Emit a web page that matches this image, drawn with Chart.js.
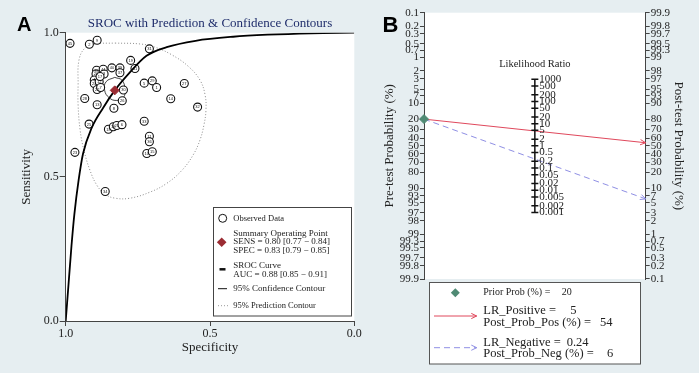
<!DOCTYPE html>
<html>
<head>
<meta charset="utf-8">
<script src="https://cdn.jsdelivr.net/npm/chart.js@4.4.0/dist/chart.umd.min.js"></script>
<style>
  html, body { margin: 0; padding: 0; background: #e6eef1; }
  #wrap { position: relative; width: 699px; height: 373px; overflow: hidden; }
  canvas { position: absolute; top: 0; }
  #sroc { left: 0; }
  #fagan { left: 360px; }
</style>
</head>
<body>
<div id="wrap">
  <canvas id="sroc" width="370" height="373"></canvas>
  <canvas id="fagan" width="339" height="373"></canvas>
</div>
<script>
// ---- Panel A: SROC data ----
const studyIds  = [45, 2, 9, 31, 19, 41, 40, 39, 35, 44, 20, 3, 37, 4, 24, 12, 22, 7, 5, 29, 1, 27, 14, 32, 30, 26, 8, 13, 28, 25, 18, 16, 21, 6, 33, 11, 36, 10, 15, 23, 34, 17];
const studySpec = [0.985, 0.918, 0.891, 0.710, 0.775, 0.760, 0.840, 0.812, 0.893, 0.870, 0.895, 0.867, 0.812, 0.901, 0.901, 0.884, 0.891, 0.879, 0.728, 0.700, 0.685, 0.589, 0.636, 0.543, 0.800, 0.804, 0.833, 0.891, 0.934, 0.919, 0.852, 0.835, 0.823, 0.805, 0.728, 0.710, 0.710, 0.719, 0.700, 0.968, 0.863, 0.881];
const studySens = [0.963, 0.960, 0.974, 0.944, 0.904, 0.876, 0.878, 0.878, 0.870, 0.873, 0.857, 0.857, 0.861, 0.836, 0.824, 0.830, 0.803, 0.810, 0.825, 0.833, 0.810, 0.824, 0.771, 0.742, 0.801, 0.764, 0.738, 0.750, 0.772, 0.683, 0.665, 0.674, 0.678, 0.681, 0.693, 0.641, 0.622, 0.581, 0.587, 0.585, 0.449, 0.848];

const sumSpec = 0.83;
const sumSens = 0.80;

const srocSpec = [1.0, 0.99, 0.98, 0.97, 0.955, 0.94, 0.91, 0.87, 0.83, 0.78, 0.72, 0.65, 0.55, 0.42, 0.30, 0.15, 0.0];
const srocSens = [0.0, 0.13, 0.26, 0.37, 0.49, 0.58, 0.67, 0.74, 0.80, 0.86, 0.92, 0.95, 0.972, 0.986, 0.993, 0.998, 1.0];

const confSpec = [0.830, 0.805, 0.795, 0.800, 0.825, 0.850, 0.865, 0.860, 0.830];
const confSens = [0.845, 0.835, 0.805, 0.775, 0.765, 0.775, 0.800, 0.830, 0.845];

const predSpec = [0.829, 0.743, 0.691, 0.632, 0.576, 0.535, 0.517, 0.514, 0.521, 0.535, 0.559, 0.597, 0.649, 0.708, 0.777, 0.829, 0.864, 0.892, 0.916, 0.937, 0.950, 0.957, 0.957, 0.954, 0.933, 0.898, 0.829];
const predSens = [0.964, 0.961, 0.950, 0.923, 0.884, 0.836, 0.784, 0.732, 0.680, 0.627, 0.575, 0.523, 0.478, 0.447, 0.426, 0.426, 0.440, 0.471, 0.523, 0.593, 0.662, 0.749, 0.818, 0.905, 0.947, 0.961, 0.964];

const axisTicksA = [0, 0.5, 1];

// ---- Panel B: Fagan nomogram data ----
const probTicks = [0.1, 0.2, 0.3, 0.5, 0.7, 1, 2, 3, 5, 7, 10, 20, 30, 40, 50, 60, 70, 80, 90, 93, 95, 97, 98, 99, 99.3, 99.5, 99.7, 99.8, 99.9];
const lrTicks = [1000, 500, 200, 100, 50, 20, 10, 5, 2, 1, 0.5, 0.2, 0.1, 0.05, 0.02, 0.01, 0.005, 0.002, 0.001];
const priorProb = 20;
const lrPositive = 5;
const postProbPos = 54;
const lrNegative = 0.24;
const postProbNeg = 6;

const serif = "'Liberation Serif', 'Times New Roman', serif";
const sans = "'Liberation Sans', Arial, sans-serif";
Chart.defaults.font.family = serif;
Chart.defaults.color = '#222';

const logit = p => Math.log((p / 100) / (1 - p / 100));
const LMAX = logit(99.9);

const pairs = (xs, ys) => xs.map((x, i) => ({ x: x, y: ys[i] }));

// white plotting region
const plotBg = {
  id: 'plotBg',
  beforeDraw(chart) {
    const { ctx, chartArea: a } = chart;
    ctx.save();
    ctx.fillStyle = '#ffffff';
    ctx.fillRect(a.left, a.top, a.right - a.left, a.bottom - a.top);
    ctx.restore();
  }
};

// numbers inside the study circles
const studyLabels = {
  id: 'studyLabels',
  afterDatasetDraw(chart, args) {
    if (args.index !== 2) return;
    const ctx = chart.ctx;
    ctx.save();
    ctx.font = '4px ' + sans;
    ctx.fillStyle = '#111';
    ctx.textAlign = 'center';
    ctx.textBaseline = 'middle';
    args.meta.data.forEach((pt, i) => ctx.fillText(String(studyIds[i]), pt.x, pt.y + 0.3));
    ctx.restore();
  }
};

const decorA = {
  id: 'decorA',
  afterDraw(chart) {
    const { ctx, chartArea: a } = chart;
    ctx.save();
    // panel letter + title
    ctx.fillStyle = '#000';
    ctx.font = 'bold 20px ' + sans;
    ctx.textBaseline = 'alphabetic';
    ctx.fillText('A', 17, 31);
    ctx.fillStyle = '#1f2d6b';
    ctx.font = '13px ' + serif;
    ctx.textAlign = 'center';
    ctx.textBaseline = 'middle';
    ctx.fillText('SROC with Prediction & Confidence Contours', (a.left + a.right) / 2, a.top - 9);

    // legend box
    const bx = 213.5, by = 207.5, bw = 138, bh = 108.5;
    ctx.fillStyle = '#fff';
    ctx.fillRect(bx, by, bw, bh);
    ctx.strokeStyle = '#444';
    ctx.lineWidth = 1;
    ctx.strokeRect(bx, by, bw, bh);

    ctx.textAlign = 'left';
    ctx.fillStyle = '#222';
    const tx = 233.3;
    ctx.beginPath();
    ctx.arc(222.7, 218.3, 4, 0, Math.PI * 2);
    ctx.strokeStyle = '#111';
    ctx.stroke();
    ctx.font = '8.5px ' + serif;
    ctx.fillText('Observed Data', tx, 218.3);

    ctx.font = '9px ' + serif;
    ctx.fillText('Summary Operating Point', tx, 233.3);
    ctx.fillText('SENS = 0.80 [0.77 \u2212 0.84]', tx, 242);
    ctx.fillText('SPEC = 0.83 [0.79 \u2212 0.85]', tx, 250.7);
    ctx.fillStyle = '#9b2c33';
    ctx.beginPath();
    ctx.moveTo(221.7, 237.5); ctx.lineTo(226.5, 242.3); ctx.lineTo(221.7, 247.1); ctx.lineTo(216.9, 242.3);
    ctx.closePath();
    ctx.fill();

    ctx.fillStyle = '#222';
    ctx.fillText('SROC Curve', tx, 265.3);
    ctx.fillText('AUC = 0.88 [0.85 \u2212 0.91]', tx, 274.3);
    ctx.strokeStyle = '#111';
    ctx.lineWidth = 2.5;
    ctx.beginPath(); ctx.moveTo(219.5, 269.3); ctx.lineTo(225.5, 269.3); ctx.stroke();

    ctx.fillText('95% Confidence Contour', tx, 288.7);
    ctx.lineWidth = 1;
    ctx.beginPath(); ctx.moveTo(218, 288.7); ctx.lineTo(227, 288.7); ctx.stroke();

    ctx.font = '8.5px ' + serif;
    ctx.fillText('95% Prediction Contour', tx, 305.7);
    ctx.strokeStyle = '#999';
    ctx.setLineDash([1, 2]);
    ctx.beginPath(); ctx.moveTo(218, 305.7); ctx.lineTo(228, 305.7); ctx.stroke();
    ctx.restore();
  }
};

new Chart(document.getElementById('sroc'), {
  type: 'scatter',
  data: {
    datasets: [
      { data: [{ x: sumSpec, y: sumSens }], pointStyle: 'rectRot', pointRadius: 4.5,
        backgroundColor: '#9b2c33', borderColor: '#9b2c33', order: 0 },
      { data: pairs(srocSpec, srocSens), showLine: true, borderColor: '#000', borderWidth: 1.8,
        pointRadius: 0, cubicInterpolationMode: 'monotone', order: 1 },
      { data: pairs(studySpec, studySens), pointRadius: 4, borderWidth: 1.1,
        borderColor: '#111', backgroundColor: '#fff', order: 2 },
      { data: pairs(confSpec, confSens), showLine: true, borderColor: '#111', borderWidth: 0.8,
        pointRadius: 0, tension: 0.45, order: 3 },
      { data: pairs(predSpec, predSens), showLine: true, borderColor: '#8c8c8c', borderWidth: 1,
        borderDash: [1, 2], pointRadius: 0, tension: 0.4, order: 4 }
    ]
  },
  options: {
    responsive: false,
    animation: false,
    layout: { padding: { top: 32.7, right: 15.7, left: 0, bottom: 0 } },
    plugins: { legend: { display: false }, tooltip: { enabled: false } },
    scales: {
      x: {
        type: 'linear', min: 0, max: 1, reverse: true,
        afterFit: s => { s.height = 52; },
        afterBuildTicks: s => { s.ticks = axisTicksA.map(v => ({ value: v })); },
        ticks: { callback: v => v.toFixed(1), font: { size: 12 }, padding: 1, color: '#222', maxRotation: 0, autoSkip: false },
        grid: { drawOnChartArea: false, tickLength: 5, color: '#444' },
        border: { color: '#444', width: 1 },
        title: { display: true, text: 'Specificity', font: { size: 13 }, color: '#222', padding: { top: 0, bottom: 18 } }
      },
      y: {
        type: 'linear', min: 0, max: 1,
        afterFit: s => { s.width = 65.7; },
        afterBuildTicks: s => { s.ticks = axisTicksA.map(v => ({ value: v })); },
        ticks: { callback: v => v.toFixed(1), font: { size: 12 }, padding: 1, color: '#222', autoSkip: false },
        grid: { drawOnChartArea: false, tickLength: 6, color: '#444' },
        border: { color: '#444', width: 1 },
        title: { display: true, text: 'Sensitivity', font: { size: 13 }, color: '#222', padding: { top: 19, bottom: 0 } }
      }
    }
  },
  plugins: [plotBg, studyLabels, decorA]
});

// ---- Panel B ----
function arrowLine(ctx, x0, y0, x1, y1, color, dash) {
  ctx.save();
  ctx.strokeStyle = color;
  ctx.lineWidth = 1;
  ctx.setLineDash(dash);
  ctx.beginPath(); ctx.moveTo(x0, y0); ctx.lineTo(x1, y1); ctx.stroke();
  ctx.setLineDash([]);
  const ang = Math.atan2(y1 - y0, x1 - x0);
  ctx.beginPath();
  ctx.moveTo(x1 - 6 * Math.cos(ang - 0.45), y1 - 6 * Math.sin(ang - 0.45));
  ctx.lineTo(x1, y1);
  ctx.lineTo(x1 - 6 * Math.cos(ang + 0.45), y1 - 6 * Math.sin(ang + 0.45));
  ctx.stroke();
  ctx.restore();
}

const faganLines = {
  id: 'faganLines',
  beforeDatasetsDraw(chart) {
    const { ctx, scales: { x, yPre, yPost } } = chart;
    const x0 = x.getPixelForValue(0), x1 = x.getPixelForValue(1);
    const y0 = yPre.getPixelForValue(logit(priorProb));
    arrowLine(ctx, x0, y0, x1, yPost.getPixelForValue(logit(postProbPos)), '#e0485c', []);
    arrowLine(ctx, x0, y0, x1, yPost.getPixelForValue(logit(postProbNeg)), '#8f8fe4', [6, 4]);
  }
};

const lrAxis = {
  id: 'lrAxis',
  afterDraw(chart) {
    const { ctx, scales: { x, yLR } } = chart;
    const cx = x.getPixelForValue(0.5);
    ctx.save();
    ctx.strokeStyle = '#111';
    ctx.lineWidth = 1.5;
    ctx.beginPath();
    ctx.moveTo(cx, yLR.getPixelForValue(lrTicks[0]));
    ctx.lineTo(cx, yLR.getPixelForValue(lrTicks[lrTicks.length - 1]));
    lrTicks.forEach(v => {
      const y = yLR.getPixelForValue(v);
      ctx.moveTo(cx - 3.5, y); ctx.lineTo(cx + 3.5, y);
    });
    ctx.stroke();
    ctx.fillStyle = '#222';
    ctx.font = '11px ' + serif;
    ctx.textAlign = 'left';
    ctx.textBaseline = 'middle';
    lrTicks.forEach(v => ctx.fillText(String(v), cx + 4.5, yLR.getPixelForValue(v)));
    ctx.textAlign = 'center';
    ctx.font = '10.5px ' + serif;
    ctx.fillText('Likelihood Ratio', cx, 64);
    ctx.restore();
  }
};

const legendB = {
  id: 'legendB',
  afterDraw(chart) {
    const ctx = chart.ctx;
    ctx.save();
    ctx.fillStyle = '#000';
    ctx.font = 'bold 22px ' + sans;
    ctx.fillText('B', 22.5, 32);

    const bx = 69.5, by = 282.5, bw = 211, bh = 81.5;
    ctx.fillStyle = '#fff';
    ctx.fillRect(bx, by, bw, bh);
    ctx.strokeStyle = '#555';
    ctx.lineWidth = 1;
    ctx.strokeRect(bx, by, bw, bh);

    ctx.fillStyle = '#4f8a74';
    ctx.beginPath();
    ctx.moveTo(95.3, 288.2); ctx.lineTo(99.8, 292.7); ctx.lineTo(95.3, 297.2); ctx.lineTo(90.8, 292.7);
    ctx.closePath();
    ctx.fill();

    ctx.fillStyle = '#222';
    ctx.textBaseline = 'middle';
    ctx.textAlign = 'left';
    const tx = 123.3;
    ctx.font = '10px ' + serif;
    ctx.fillText('Prior Prob (%) =', tx, 292.7);
    ctx.fillText(String(priorProb), 201.7, 292.7);

    ctx.font = '12.5px ' + serif;
    ctx.fillText('LR_Positive =', tx, 311);
    ctx.fillText('Post_Prob_Pos (%) =', tx, 322.7);
    ctx.fillText(String(postProbPos), 240, 322.7);
    ctx.fillText('LR_Negative =', tx, 342.3);
    ctx.fillText(String(lrNegative), 206.7, 342.3);
    ctx.fillText('Post_Prob_Neg (%) =', tx, 354);
    ctx.textAlign = 'center';
    ctx.fillText(String(lrPositive), 213.3, 311);
    ctx.fillText(String(postProbNeg), 250, 354);
    ctx.restore();

    arrowLine(ctx, 74, 316, 116.7, 316, '#e0485c', []);
    arrowLine(ctx, 74, 347.7, 116.7, 347.7, '#8f8fe4', [6, 4]);
  }
};

const probAxis = (position, reverse, width, title, titlePad) => ({
  type: 'linear', position: position, reverse: reverse, min: -LMAX, max: LMAX,
  afterFit: s => { s.width = width; },
  afterBuildTicks: s => { s.ticks = probTicks.map(p => ({ value: logit(p) })); },
  ticks: { autoSkip: false, callback: (v, i) => String(probTicks[i]), font: { size: 11 }, padding: 1, color: '#222' },
  grid: { drawOnChartArea: false, tickLength: 4, color: '#444' },
  border: { color: '#444', width: 1 },
  title: { display: true, text: title, font: { size: 13 }, color: '#222', padding: { top: titlePad, bottom: 0 } }
});

new Chart(document.getElementById('fagan'), {
  type: 'scatter',
  data: {
    datasets: [
      { data: [{ x: 0, y: logit(priorProb) }], yAxisID: 'yPre', pointStyle: 'rectRot', pointRadius: 4.5,
        backgroundColor: '#4f8a74', borderColor: '#4f8a74', clip: false }
    ]
  },
  options: {
    responsive: false,
    animation: false,
    layout: { padding: { top: 12.7, bottom: 94, left: 0, right: 0 } },
    plugins: { legend: { display: false }, tooltip: { enabled: false } },
    scales: {
      x: { type: 'linear', min: 0, max: 1, display: false },
      yPre: probAxis('left', true, 64, 'Pre-test Probability (%)', 22),
      yPost: probAxis('right', false, 53.3, 'Post-test Probability (%)', 13),
      yLR: { type: 'logarithmic', min: 1e-6, max: 1e6, display: false }
    }
  },
  plugins: [plotBg, faganLines, lrAxis, legendB]
});
</script>
</body>
</html>
